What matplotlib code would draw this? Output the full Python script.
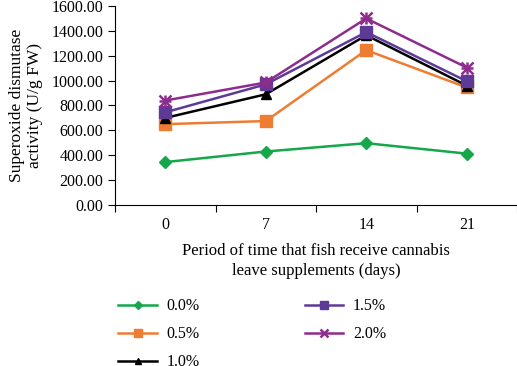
import matplotlib
matplotlib.use("Agg")
import matplotlib.pyplot as plt
import numpy as np

days = ["0", "7", "14", "21"]
series_names = ["0.0%", "0.5%", "1.0%", "1.5%", "2.0%"]
v00 = [345, 430, 497, 413]
v05 = [650, 675, 1245, 945]
v10 = [700, 890, 1365, 960]
v15 = [745, 970, 1390, 995]
v20 = [840, 985, 1500, 1105]
yticks = [0, 200, 400, 600, 800, 1000, 1200, 1400, 1600]

plt.rcParams['font.family'] = ['Liberation Serif', 'DejaVu Serif']

fig = plt.figure(figsize=(5.17, 3.66), dpi=100)
ax = fig.add_axes([115/517, 1 - 205/366, (517-115)/517, (205-6)/366])

x = np.arange(len(days))
styles = [
    (v00, "#14a84a", "D", 6, dict()),
    (v05, "#ee7d33", "s", 8, dict()),
    (v10, "#000000", "^", 7, dict()),
    (v15, "#5e3a97", "s", 8, dict()),
    (v20, "#8e2c8e", "x", 8, dict(markeredgewidth=1.8)),
]
order = [1, 2, 3, 4, 0]
handles = {}
for i in order:
    vals, col, mk, ms, extra = styles[i]
    (h,) = ax.plot(x, vals, color=col, marker=mk, markersize=ms, linewidth=1.8,
                   label=series_names[i], **extra)
    if mk == "x":
        ax.plot(x, vals, color=col, marker="+", markersize=ms, linewidth=0,
                markeredgewidth=1.8)
    handles[i] = h

ax.set_xlim(-0.5, 3.5)
ax.set_ylim(0, 1600)
ax.set_xticks(np.arange(-0.5, 3.6, 1.0))
ax.set_xticklabels([])
ax.set_xticks(x, minor=True)
ax.set_xticklabels(days, minor=True)
ax.tick_params(axis='x', which='minor', length=0, pad=9, labelsize=11.5)
ax.tick_params(axis='x', which='major', length=5, direction='out')
ax.set_yticks(yticks)
ax.set_yticklabels([f"{t:.2f}" for t in yticks])
ax.tick_params(axis='y', length=5, direction='out', labelsize=11.5)
ax.spines['top'].set_visible(False)
ax.spines['right'].set_visible(False)
ax.set_ylabel("Superoxide dismutase\nactivity (U/g FW)", fontsize=12.5, labelpad=6)
ax.set_xlabel("Period of time that fish receive cannabis\nleave supplements (days)",
              fontsize=12, labelpad=7, linespacing=1.3)

leg_handles = [handles[i] for i in range(5)]
fig.legend(leg_handles, series_names, loc='upper left',
           bbox_to_anchor=(104/517, 1 - 284/366), ncol=2, frameon=False,
           fontsize=11.5, columnspacing=6.6, handlelength=2.4, handletextpad=0.6,
           labelspacing=0.75, markerscale=0.65)

fig.savefig("out.png", dpi=100)
